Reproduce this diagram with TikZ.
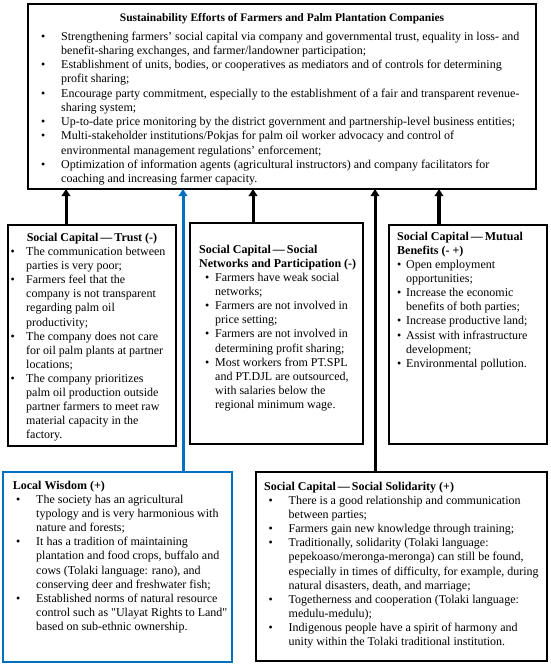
\documentclass[tikz,border=0pt]{standalone}
\usepackage{fontspec}
\setmainfont{Liberation Serif}
\usetikzlibrary{arrows.meta}
\definecolor{myblue}{RGB}{0,112,192}
\newcommand{\bi}[1]{\makebox[#1pt][l]{\textbullet}}
\newcommand{\ci}[1]{\hspace*{#1pt}}
\begin{document}
\begin{tikzpicture}[x=1pt,y=-1pt,
  box/.style={draw, line width=1.4pt, anchor=north west, inner sep=0pt, outer sep=0pt},
  txt/.style={anchor=base west, inner sep=0pt, font=\fontsize{12}{14.1}\selectfont},
  ttl/.style={anchor=base west, inner sep=0pt, font=\bfseries\fontsize{12}{14.1}\selectfont},
  arr/.style={line width=3pt, -{Triangle[width=8.5pt,length=7pt]}}]
\useasboundingbox (0,0) rectangle (550,665);
% boxes
\node[box, line width=2pt, minimum width=508pt, minimum height=185pt] (top) at (28,4) {};
\node[box, minimum width=168pt, minimum height=221pt] (trust) at (8,225) {};
\node[box, minimum width=173pt, minimum height=221pt] (net) at (190,223) {};
\node[box, minimum width=158pt, minimum height=219pt] (mut) at (389,225) {};
\node[box, draw=myblue, line width=2pt, minimum width=229pt, minimum height=190pt] (loc) at (3,472) {};
\node[box, minimum width=291pt, minimum height=189pt] (sol) at (256,472) {};
% top text
\node[anchor=base, inner sep=0pt, font=\bfseries\fontsize{11.5}{14}\selectfont] (title) at (282,21) {Sustainability Efforts of Farmers and Palm Plantation Companies};
\node[txt, font=\fontsize{12}{14.26}\selectfont] (toptxt) at (41,40) {\begin{tabular}[t]{@{}l@{}}
\bi{20}Strengthening farmers' social capital via company and governmental trust, equality in loss- and\\
\ci{20}benefit-sharing exchanges, and farmer/landowner participation;\\
\bi{20}Establishment of units, bodies, or cooperatives as mediators and of controls for determining\\
\ci{20}profit sharing;\\
\bi{20}Encourage party commitment, especially to the establishment of a fair and transparent revenue-\\
\ci{20}sharing system;\\
\bi{20}Up-to-date price monitoring by the district government and partnership-level business entities;\\
\bi{20}Multi-stakeholder institutions/Pokjas for palm oil worker advocacy and control of\\
\ci{20}environmental management regulations' enforcement;\\
\bi{20}Optimization of information agents (agricultural instructors) and company facilitators for\\
\ci{20}coaching and increasing farmer capacity.
\end{tabular}};
% trust
\node[ttl, anchor=base] (trustttl) at (92,241.5) {Social Capital\,---\,Trust (-)};
\node[txt] (trusttxt) at (10.5,255.5) {\begin{tabular}[t]{@{}l@{}}
\bi{15.5}The communication between\\
\ci{15.5}parties is very poor;\\
\bi{15.5}Farmers feel that the\\
\ci{15.5}company is not transparent\\
\ci{15.5}regarding palm oil\\
\ci{15.5}productivity;\\
\bi{15.5}The company does not care\\
\ci{15.5}for oil palm plants at partner\\
\ci{15.5}locations;\\
\bi{15.5}The company prioritizes\\
\ci{15.5}palm oil production outside\\
\ci{15.5}partner farmers to meet raw\\
\ci{15.5}material capacity in the\\
\ci{15.5}factory.
\end{tabular}};
% networks
\node[ttl] (netttl) at (199,253.5) {\begin{tabular}[t]{@{}l@{}}
Social Capital\,---\,Social\\
Networks and Participation (-)
\end{tabular}};
\node[txt] (nettxt) at (205,281.5) {\begin{tabular}[t]{@{}l@{}}
\bi{10}Farmers have weak social\\
\ci{10}networks;\\
\bi{10}Farmers are not involved in\\
\ci{10}price setting;\\
\bi{10}Farmers are not involved in\\
\ci{10}determining profit sharing;\\
\bi{10}Most workers from PT.SPL\\
\ci{10}and PT.DJL are outsourced,\\
\ci{10}with salaries below the\\
\ci{10}regional minimum wage.
\end{tabular}};
% mutual
\node[ttl] (mutttl) at (397,240.5) {\begin{tabular}[t]{@{}l@{}}
Social Capital\,---\,Mutual\\
Benefits (- +)
\end{tabular}};
\node[txt] (muttxt) at (397,268.5) {\begin{tabular}[t]{@{}l@{}}
\bi{9}Open employment\\
\ci{9}opportunities;\\
\bi{9}Increase the economic\\
\ci{9}benefits of both parties;\\
\bi{9}Increase productive land;\\
\bi{9}Assist with infrastructure\\
\ci{9}development;\\
\bi{9}Environmental pollution.
\end{tabular}};
% local wisdom
\node[ttl] (locttl) at (12.7,489.5) {Local Wisdom (+)};
\node[txt] (loctxt) at (16,503.5) {\begin{tabular}[t]{@{}l@{}}
\bi{20}The society has an agricultural\\
\ci{20}typology and is very harmonious with\\
\ci{20}nature and forests;\\
\bi{20}It has a tradition of maintaining\\
\ci{20}plantation and food crops, buffalo and\\
\ci{20}cows (Tolaki language: rano), and\\
\ci{20}conserving deer and freshwater fish;\\
\bi{20}Established norms of natural resource\\
\ci{20}control such as \textquotedbl Ulayat Rights to Land\textquotedbl\\
\ci{20}based on sub-ethnic ownership.
\end{tabular}};
% solidarity
\node[ttl] (solttl) at (264,490.5) {Social Capital\,---\,Social Solidarity (+)};
\node[txt] (soltxt) at (268.5,504.5) {\begin{tabular}[t]{@{}l@{}}
\bi{20}There is a good relationship and communication\\
\ci{20}between parties;\\
\bi{20}Farmers gain new knowledge through training;\\
\bi{20}Traditionally, solidarity (Tolaki language:\\
\ci{20}pepekoaso/meronga-meronga) can still be found,\\
\ci{20}especially in times of difficulty, for example, during\\
\ci{20}natural disasters, death, and marriage;\\
\bi{20}Togetherness and cooperation (Tolaki language:\\
\ci{20}medulu-medulu);\\
\bi{20}Indigenous people have a spirit of harmony and\\
\ci{20}unity within the Tolaki traditional institution.
\end{tabular}};
% arrows
\coordinate (a1) at (66,0);
\coordinate (a2) at (183,0);
\coordinate (a3) at (253,0);
\coordinate (a4) at (375,0);
\coordinate (a5) at (439,0);
\draw[arr] (trust.north -| a1) -- (top.south -| a1);
\draw[arr, draw=myblue, fill=myblue] (loc.north -| a2) -- (top.south -| a2);
\draw[arr] (net.north -| a3) -- (top.south -| a3);
\draw[arr] (sol.north -| a4) -- (top.south -| a4);
\draw[arr, line width=3.6pt] (mut.north -| a5) -- (top.south -| a5);
\end{tikzpicture}
\end{document}
